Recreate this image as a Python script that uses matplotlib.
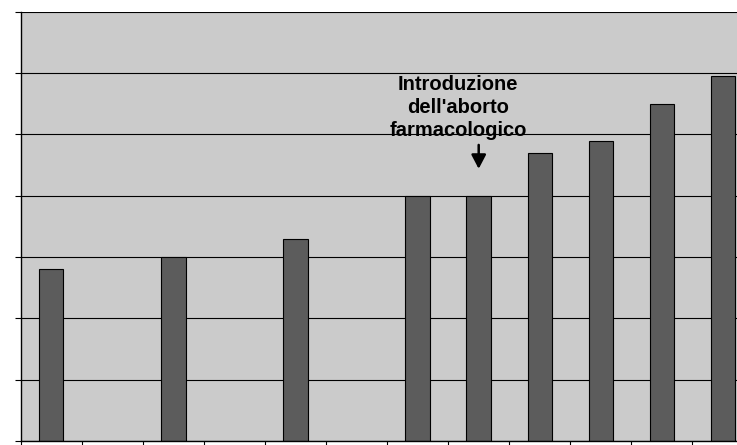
import matplotlib
matplotlib.use("Agg")
import matplotlib.pyplot as plt
import numpy as np

# 12 categories; categories 2, 4 and 6 have no bar
categories = list(range(12))
values = [2.8, None, 3.0, None, 3.3, None, 4.0, 4.0, 4.7, 4.9, 5.5, 5.95]
annotation_text = "Introduzione\ndell'aborto\nfarmacologico"
annotated_index = 7

plt.rcParams['font.family'] = ['Liberation Sans', 'DejaVu Sans']

fig = plt.figure(figsize=(7.37, 4.45), dpi=100)
fig.patch.set_facecolor('white')
ax = fig.add_axes([20.7 / 737, 4 / 445, 732.8 / 737, 429.1 / 445])
ax.set_facecolor('#CBCBCB')

xs = [c for c, v in zip(categories, values) if v is not None]
vs = [v for v in values if v is not None]
ax.bar(xs, vs, width=0.4, color='#5C5C5C', edgecolor='black', linewidth=0.8, zorder=3)

ax.set_xlim(-0.5, 11.5)
ax.set_ylim(0, 7)
ax.set_yticks(np.arange(0, 8, 1))
ax.yaxis.grid(True, color='black', linewidth=0.8, zorder=1)
ax.set_axisbelow(True)
ax.set_yticklabels([])
ax.set_xticks([])
ax.set_xticks(np.arange(-0.5, 12, 1), minor=True)
ax.tick_params(axis='x', which='minor', direction='out', length=4, width=0.8, color='black', labelbottom=False)
ax.tick_params(axis='y', which='major', direction='out', length=4, width=0.8, color='black', labelleft=False)

for s in ['top', 'right']:
    ax.spines[s].set_visible(False)
for s in ['left', 'bottom']:
    ax.spines[s].set_color('black')
    ax.spines[s].set_linewidth(1.0)
    ax.spines[s].set_zorder(4)

ax.text(6.66, 4.975, annotation_text, ha='center', va='baseline', fontsize=14.5,
        fontweight='bold', linespacing=1.26, zorder=5)
ax.annotate('', xy=(annotated_index, 4.44), xytext=(annotated_index, 4.83),
            arrowprops=dict(arrowstyle='-|>,head_width=0.22,head_length=0.42',
                            mutation_scale=20, color='black', lw=1.8,
                            shrinkA=0, shrinkB=0), zorder=5)

fig.savefig('out.png', dpi=100)
